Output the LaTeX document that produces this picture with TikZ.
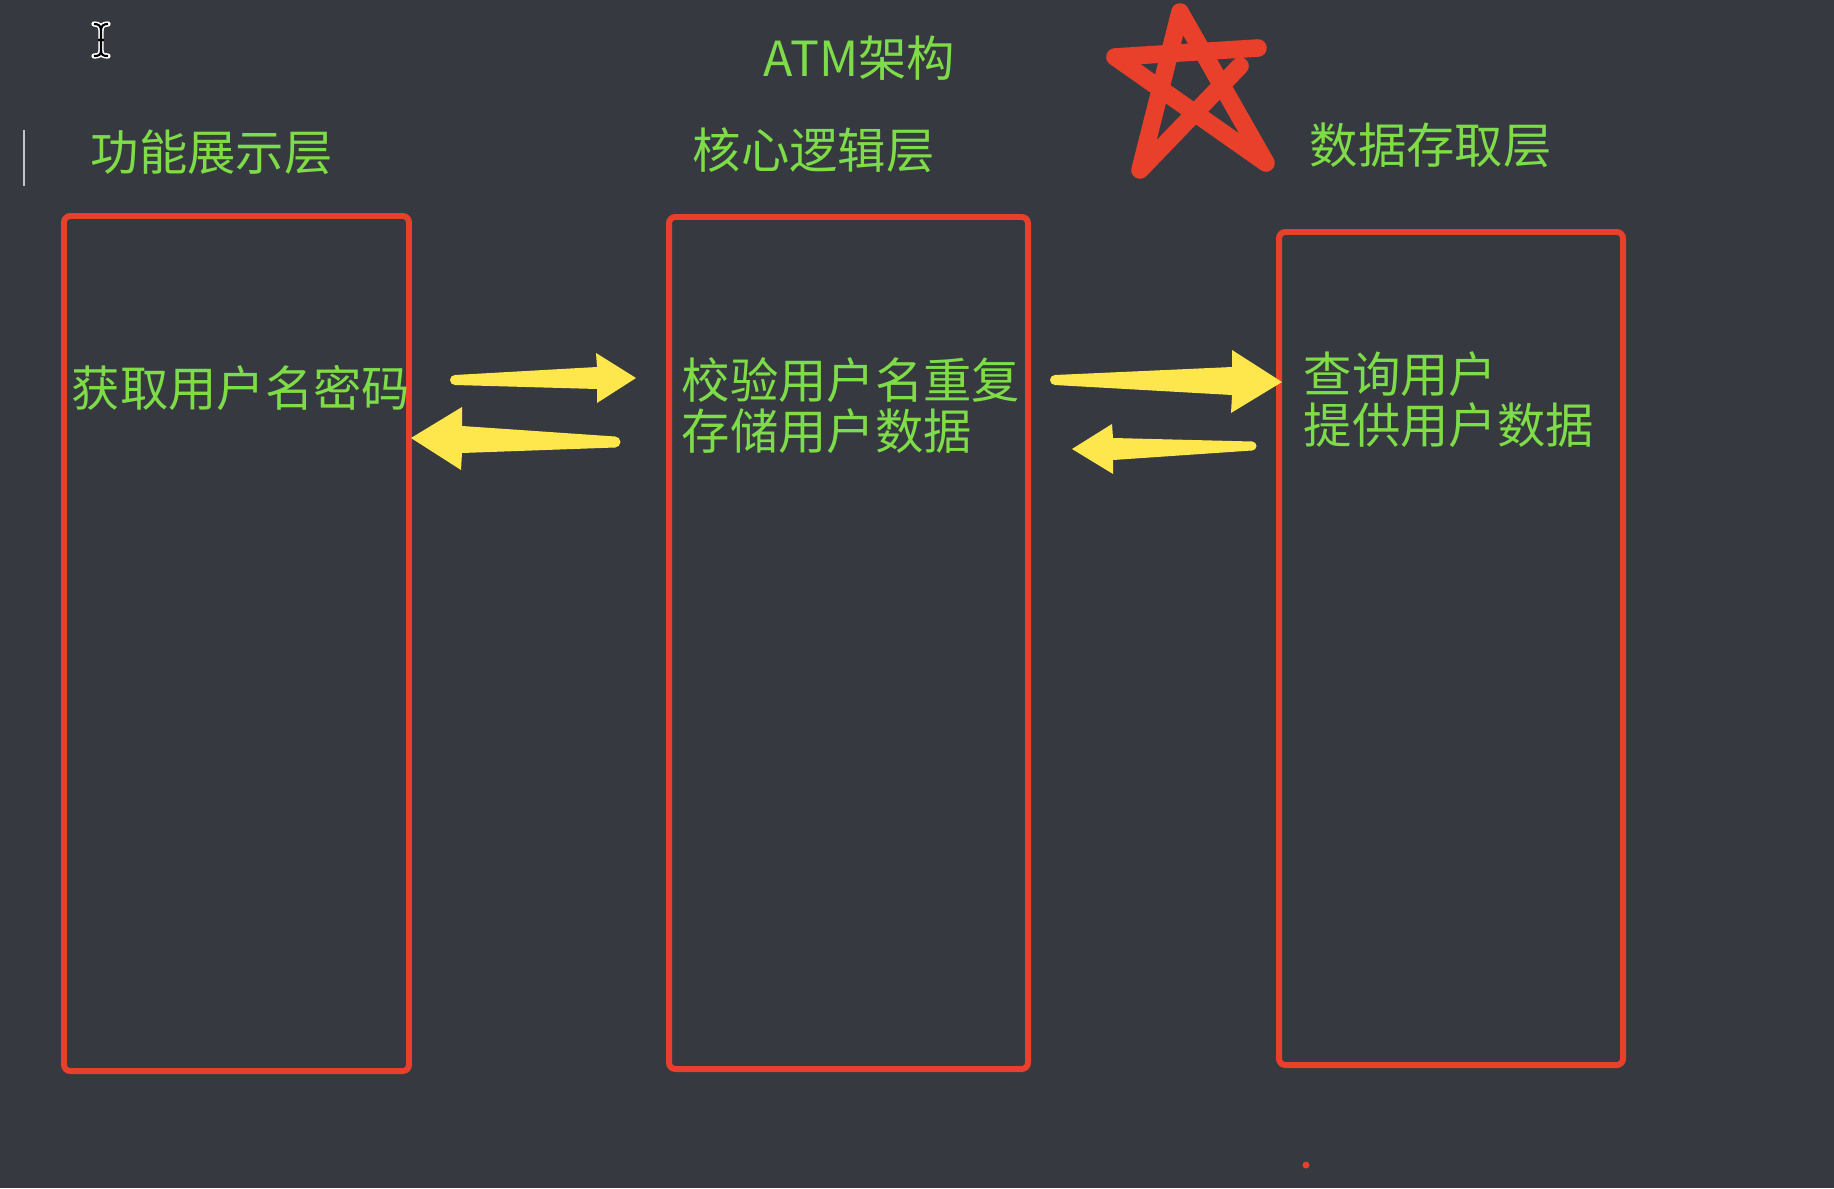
\documentclass[tikz,border=0pt]{standalone}
\usepackage{fontspec}
\setmainfont{Noto Sans CJK SC}
\definecolor{boardbg}{HTML}{36393F}
\definecolor{penred}{HTML}{E8402A}
\definecolor{labelgreen}{HTML}{7DDC48}
\definecolor{markyellow}{HTML}{FDE74C}
\definecolor{caretgray}{HTML}{C4C4C8}
\tikzset{
  layerbox/.style={draw=penred, line width=1.7pt, rounded corners=1.8pt},
  layertext/.style={text=labelgreen, font=\fontsize{13.75pt}{14.3pt}\selectfont,
    inner sep=0pt, anchor=base west, align=left},
  fatarrow/.style={fill=markyellow},
}
\begin{document}
\begin{tikzpicture}[x=0.01cm, y=-0.01cm]
        % 1 unit = 1 pixel, y downwards
        \fill[boardbg] (0,0) rectangle (1834,1188);
        \useasboundingbox (0,0) rectangle (1834,1188);

        % text cursor and caret
        \draw[white, line width=1.5pt, line cap=round]
          (94,24) .. controls (99,24) and (101,26) .. (101,31) -- (101,50) .. controls (101,55) and (99,56) .. (94,56)
          (108,24) .. controls (103,24) and (101,26) .. (101,31) -- (101,50) .. controls (101,55) and (103,56) .. (108,56);
        \draw[black, line width=0.6pt]
          (94,24) .. controls (99,24) and (101,26) .. (101,31) -- (101,50) .. controls (101,55) and (99,56) .. (94,56)
          (108,24) .. controls (103,24) and (101,26) .. (101,31) -- (101,50) .. controls (101,55) and (103,56) .. (108,56)
          (98,40) -- (104,40);
        \draw[caretgray, line width=0.6pt] (24,130) -- (24,186);

        \node[layertext] (title) at (763,77) {ATM架构};

        % hand drawn star
        \draw[penred, line width=5pt, line cap=round, line join=round]
          (1240,66) -- (1140,170) -- (1180,12) -- (1266,163) -- (1115,57) -- (1258,48);

        % layers
        \node[layertext] (showhead) at (90,170) {功能展示层};
        \node[layertext] (corehead) at (692,169) {核心逻辑层};
        \node[layertext] (datahead) at (1309,164) {数据存取层};

        \draw[layerbox] (64,216) rectangle (409,1071);
        \node[layertext] (showtext) at (71,406) {获取用户名密码};

        \draw[layerbox] (669,217) rectangle (1028,1069);
        \node[layertext] (coretext) at (681,449) {校验用户名重复\\存储用户数据};

        \draw[layerbox] (1279,232) rectangle (1623,1065);
        \node[layertext] (datatext) at (1303,443) {查询用户\\提供用户数据};

        % arrows
        \fill[fatarrow] (455,375) -- (597,367) -- (596,353) -- (636,378) -- (597,403) -- (597,389) -- (455,385) -- cycle;
        \fill[fatarrow] (455,380) circle (5);
        \fill[fatarrow] (615,436.5) -- (462,426) -- (462,407) -- (411,438) -- (461,470) -- (462,453) -- (615,447.5) -- cycle;
        \fill[fatarrow] (615,442) circle (5.5);

        \fill[fatarrow] (1055,375) -- (1232,367) -- (1232,350) -- (1282,382) -- (1231,413) -- (1232,395) -- (1055,385) -- cycle;
        \fill[fatarrow] (1055,380) circle (5);
        \fill[fatarrow] (1252,441.5) -- (1113,438) -- (1112,424) -- (1072,449) -- (1113,474) -- (1113,460) -- (1252,450.5) -- cycle;
        \fill[fatarrow] (1252,446) circle (4.5);

        \fill[penred] (1306,1165) circle (3.5);
\end{tikzpicture}
\end{document}
